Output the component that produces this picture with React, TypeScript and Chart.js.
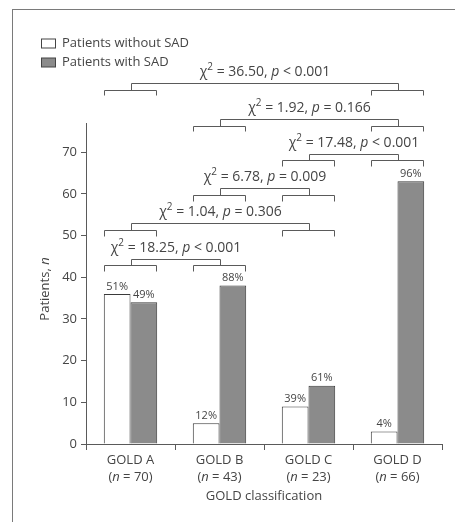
import React, { useEffect, useRef } from "react";
import { Chart, registerables } from "chart.js";

Chart.register(...registerables);

const categories = ["GOLD A", "GOLD B", "GOLD C", "GOLD D"];
const categoryN = ["70", "43", "23", "66"];
const withoutSAD = [36, 5, 9, 3];
const withSAD = [34, 38, 14, 63];
const pctWithout = ["51%", "12%", "39%", "4%"];
const pctWith = ["49%", "88%", "61%", "96%"];
const seriesNames = ["Patients without SAD", "Patients with SAD"];
const yMax = 77;
const yStep = 10;

// comparison brackets: from group, to group, level (n), chi-square, p text
const bracketFrom = [0, 1, 2, 1, 0, 0];
const bracketTo = [3, 3, 3, 2, 2, 1];
const bracketLevel = [85, 76.4, 68.1, 59.8, 51.4, 42.9];
const bracketChi = ["36.50", "1.92", "17.48", "6.78", "1.04", "18.25"];
const bracketP = ["< 0.001", "= 0.166", "< 0.001", "= 0.009", "= 0.306", "< 0.001"];

const FONT = "'Open Sans', 'DejaVu Sans', sans-serif";
const TEXT = "#454545";
const LINE = "#5a5a5a";
const GRAY = "#8b8b8b";

type Seg = { t: string; it?: boolean; sup?: boolean };

function drawSegs(ctx: CanvasRenderingContext2D, segs: Seg[], cx: number, cy: number, size: number) {
  const fontFor = (s: Seg) => `${s.it ? "italic " : ""}${s.sup ? Math.round(size * 0.7) : size}px ${FONT}`;
  let total = 0;
  const widths = segs.map((s) => {
    ctx.font = fontFor(s);
    const w = ctx.measureText(s.t).width;
    total += w;
    return w;
  });
  let x = cx - total / 2;
  ctx.textAlign = "left";
  ctx.textBaseline = "middle";
  segs.forEach((s, i) => {
    ctx.font = fontFor(s);
    ctx.fillText(s.t, x, s.sup ? cy - size * 0.35 : cy);
    x += widths[i];
  });
}

const decorPlugin = {
  id: "decor",
  afterDraw(chart: any) {
    const ctx: CanvasRenderingContext2D = chart.ctx;
    const y = chart.scales.y;
    const area = chart.chartArea;
    const m0 = chart.getDatasetMeta(0).data;
    const m1 = chart.getDatasetMeta(1).data;
    ctx.save();

    // frame
    ctx.strokeStyle = "#7a7a7a";
    ctx.lineWidth = 1;
    ctx.strokeRect(12.5, 9.5, 470, 540);

    // legend
    const legendFill = ["#ffffff", GRAY];
    seriesNames.forEach((name, i) => {
      const cy = 43.5 + i * 19;
      ctx.fillStyle = legendFill[i];
      ctx.fillRect(41.5, cy - 4.5, 14, 9);
      ctx.strokeStyle = "#444";
      ctx.strokeRect(41.5, cy - 4.5, 14, 9);
      ctx.fillStyle = TEXT;
      ctx.font = `13px ${FONT}`;
      ctx.textAlign = "left";
      ctx.textBaseline = "middle";
      ctx.fillText(name, 62, cy);
    });

    // percent labels
    ctx.fillStyle = TEXT;
    ctx.font = `11px ${FONT}`;
    ctx.textAlign = "center";
    ctx.textBaseline = "bottom";
    m0.forEach((b: any, i: number) => ctx.fillText(pctWithout[i], b.x, b.y - 2));
    m1.forEach((b: any, i: number) => ctx.fillText(pctWith[i], b.x, b.y - 2));

    // brackets
    const gLeft = (g: number) => m0[g].x - m0[g].width / 2;
    const gRight = (g: number) => m1[g].x + m1[g].width / 2;
    const gMid = (g: number) => (m0[g].x + m0[g].width / 2 + m1[g].x - m1[g].width / 2) / 2;
    ctx.strokeStyle = LINE;
    ctx.lineWidth = 1;
    bracketFrom.forEach((f, k) => {
      const t = bracketTo[k];
      const lv = bracketLevel[k];
      const yTop = Math.round(y.getPixelForValue(lv + 1.5)) + 0.5;
      const yGrp = Math.round(y.getPixelForValue(lv)) + 0.5;
      const yTail = Math.round(y.getPixelForValue(lv - 1.4)) + 0.5;
      const a = Math.round(gMid(f)) + 0.5;
      const b = Math.round(gMid(t)) + 0.5;
      ctx.beginPath();
      ctx.moveTo(a, yGrp);
      ctx.lineTo(a, yTop);
      ctx.lineTo(b, yTop);
      ctx.lineTo(b, yGrp);
      [f, t].forEach((g) => {
        const l = Math.round(gLeft(g)) + 0.5;
        const r = Math.round(gRight(g)) - 0.5;
        ctx.moveTo(l, yTail);
        ctx.lineTo(l, yGrp);
        ctx.lineTo(r, yGrp);
        ctx.lineTo(r, yTail);
      });
      ctx.stroke();
      ctx.fillStyle = TEXT;
      drawSegs(
        ctx,
        [
          { t: "χ" },
          { t: "2", sup: true },
          { t: ` = ${bracketChi[k]}, ` },
          { t: "p", it: true },
          { t: ` ${bracketP[k]}` },
        ],
        (a + b) / 2,
        yTop - 11.5,
        14
      );
    });

    // x tick labels
    ctx.fillStyle = TEXT;
    const xs = chart.scales.x;
    categories.forEach((c, i) => {
      const cx = xs.getPixelForTick(i);
      drawSegs(ctx, [{ t: c }], cx, 460, 13);
      drawSegs(ctx, [{ t: "(" }, { t: "n", it: true }, { t: ` = ${categoryN[i]})` }], cx, 477, 13);
    });

    // axis titles
    drawSegs(ctx, [{ t: "GOLD classification" }], (area.left + area.right) / 2, 496, 13);
    ctx.save();
    ctx.translate(45, 289);
    ctx.rotate(-Math.PI / 2);
    drawSegs(ctx, [{ t: "Patients, " }, { t: "n", it: true }], 0, 0, 13);
    ctx.restore();

    ctx.restore();
  },
};

export default function App() {
  const ref = useRef<HTMLCanvasElement>(null);
  useEffect(() => {
    if (!ref.current) return;
    const chart = new Chart(ref.current, {
      type: "bar",
      data: {
        labels: categories,
        datasets: [
          {
            label: seriesNames[0],
            data: withoutSAD,
            backgroundColor: "#ffffff",
            borderColor: "#3a3a3a",
            borderWidth: 1,
            categoryPercentage: 0.6,
            barPercentage: 1.0,
          },
          {
            label: seriesNames[1],
            data: withSAD,
            backgroundColor: GRAY,
            borderColor: "#3a3a3a",
            borderWidth: 1,
            categoryPercentage: 0.6,
            barPercentage: 1.0,
          },
        ],
      },
      options: {
        responsive: false,
        animation: false,
        layout: { padding: { left: 0, top: 123, right: 13, bottom: 0 } },
        plugins: { legend: { display: false }, tooltip: { enabled: false }, title: { display: false } },
        scales: {
          x: {
            type: "category",
            offset: true,
            grid: { offset: true, drawOnChartArea: false, drawTicks: true, tickLength: 6, color: LINE },
            border: { color: LINE, width: 1 },
            ticks: { display: false },
            afterFit: (s: any) => {
              s.height = 78;
            },
          },
          y: {
            min: 0,
            max: yMax,
            grid: { drawOnChartArea: false, drawTicks: true, tickLength: 5, color: LINE },
            border: { color: LINE, width: 1 },
            ticks: { stepSize: yStep, padding: 4, color: TEXT, font: { family: FONT, size: 13 } },
            afterBuildTicks: (s: any) => {
              s.ticks = s.ticks.filter((t: any) => t.value % yStep === 0);
            },
            afterFit: (s: any) => {
              s.width = 86;
            },
          },
        },
      },
      plugins: [decorPlugin],
    });
    return () => chart.destroy();
  }, []);
  return (
    <div style={{ position: "fixed", left: 0, top: 0, width: 455, height: 522, background: "#fff" }}>
      <canvas ref={ref} width={455} height={522} style={{ display: "block" }} />
    </div>
  );
}
